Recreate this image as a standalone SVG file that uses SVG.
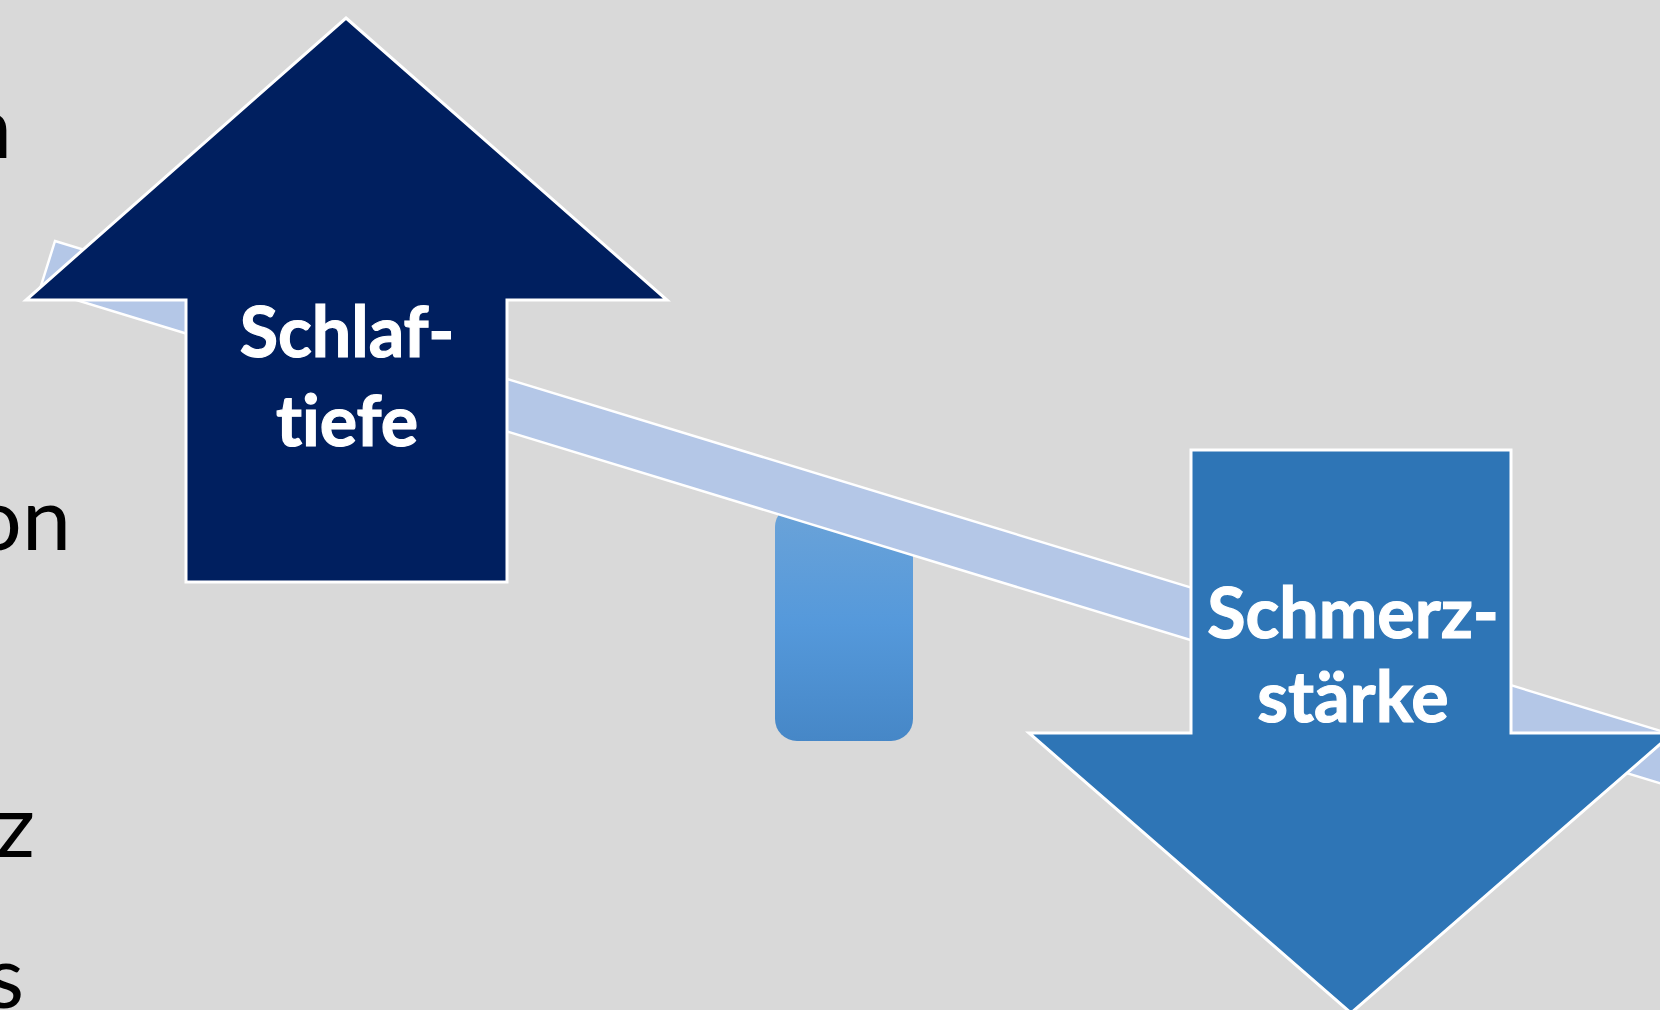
<svg xmlns="http://www.w3.org/2000/svg" width="1660" height="1010" viewBox="0 0 1660 1010">
  <defs>
    <linearGradient id="fulcrumGrad" x1="0" y1="0" x2="0" y2="1">
      <stop offset="0" stop-color="#6ba3d8"/>
      <stop offset="0.5" stop-color="#5599db"/>
      <stop offset="1" stop-color="#4687c7"/>
    </linearGradient>
    <style>
      .bg { fill: #d9d9d9; }
      .side { font-family: Lato, "Liberation Sans", sans-serif; font-size: 88px; fill: #000000; font-variant-ligatures: none; }
      .label { font-family: Lato, "Open Sans", sans-serif; font-weight: 700; font-size: 70px; fill: #ffffff; stroke: #ffffff; stroke-width: 1.2; text-anchor: middle; font-variant-ligatures: none; font-feature-settings: "liga" 0, "clig" 0; }
      .beam { fill: #b4c7e7; stroke: #ffffff; stroke-width: 2.5; }
      .arrow { stroke: #ffffff; stroke-width: 3; stroke-linejoin: miter; }
    </style>
  </defs>
  <rect class="bg" x="0" y="0" width="1660" height="1010"/>

  <g id="side-text">
    <text class="side" x="12" y="158" text-anchor="end">n</text>
    <text class="side" x="71" y="550" text-anchor="end">on</text>
    <text class="side" x="35" y="857" text-anchor="end">z</text>
    <text class="side" x="24" y="1008" text-anchor="end">s</text>
  </g>

  <g id="fulcrum">
    <rect x="775" y="505" width="138" height="236" rx="22" ry="22" fill="url(#fulcrumGrad)"/>
  </g>

  <g id="beam">
    <polygon class="beam" points="55,241 1720,749 1705,797 40,289"/>
  </g>

  <g id="connectors"></g>

  <g id="arrow-up">
    <polygon class="arrow" fill="#001f5f" points="346,18 667,300 507,300 507,582 186,582 186,300 26,300"/>
    <text class="label" x="347" y="357">Schlaf-</text>
    <text class="label" x="347" y="446">tiefe</text>
  </g>

  <g id="arrow-down">
    <polygon class="arrow" fill="#2e75b6" points="1191,450 1511,450 1511,733 1673,733 1351,1013 1029,733 1191,733"/>
    <text class="label" x="1353" y="638">Schmerz-</text>
    <text class="label" x="1353" y="722">stärke</text>
  </g>
</svg>
